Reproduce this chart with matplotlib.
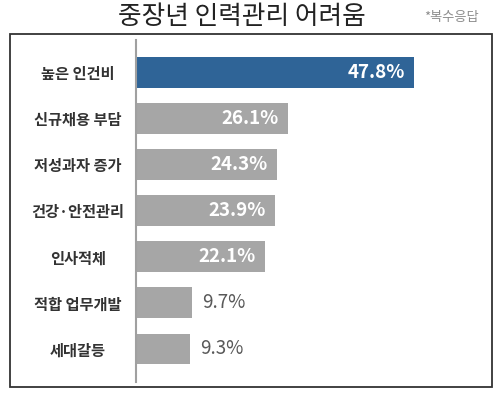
import matplotlib
matplotlib.use('Agg')
import matplotlib.pyplot as plt
from matplotlib.patches import Rectangle

plt.rcParams['font.family'] = ['Noto Sans CJK KR', 'DejaVu Sans']

# data
categories = ['높은 인건비', '신규채용 부담', '저성과자 증가', '건강·안전관리',
              '인사적체', '적합 업무개발', '세대갈등']
values = [47.8, 26.1, 24.3, 23.9, 22.1, 9.7, 9.3]
bar_colors = ['#2F6497', '#A6A6A6', '#A6A6A6', '#A6A6A6', '#A6A6A6', '#A6A6A6', '#A6A6A6']

fig = plt.figure(figsize=(5.04, 3.99), dpi=100)
fig.patch.set_facecolor('white')

# outer frame
fig.patches.append(Rectangle((10 / 504, 1 - 387 / 399), 482 / 504, 353 / 399,
                             transform=fig.transFigure, fill=False,
                             edgecolor='#333333', linewidth=1.3))

ax = fig.add_axes([136 / 504, 1 - 382 / 399, 344 / 504, 342 / 399])
pos = list(range(len(categories)))
ax.barh(pos, values, height=0.67, color=bar_colors)
ax.set_xlim(0, 59.1)
ax.set_ylim(6.717, -0.705)

for s in ['top', 'right', 'bottom']:
    ax.spines[s].set_visible(False)
ax.spines['left'].set_color('#A0A0A0')
ax.spines['left'].set_linewidth(1.5)
ax.set_xticks([])
ax.set_yticks(pos)
ax.set_yticklabels(categories, fontsize=11, fontweight='bold', color='#333333')
ax.tick_params(axis='y', length=0, pad=42)
for lab in ax.get_yticklabels():
    lab.set_ha('center')

for p, v in zip(pos, values):
    txt = f'{v}%'
    if v > 15:
        ax.text(v - 1.6, p, txt, ha='right', va='center', color='white',
                fontsize=13.5, fontweight='bold')
    else:
        ax.text(v + 1.7, p, txt, ha='left', va='center', color='#595959',
                fontsize=13.5)

fig.text(242 / 504, 1 - 17 / 399, '중장년 인력관리 어려움', ha='center', va='center',
         fontsize=18.5, color='#222222')
fig.text(451 / 504, 1 - 17 / 399, '*복수응답', ha='center', va='center',
         fontsize=9.5, color='#8C8C8C')

fig.savefig('out.png', dpi=100)
